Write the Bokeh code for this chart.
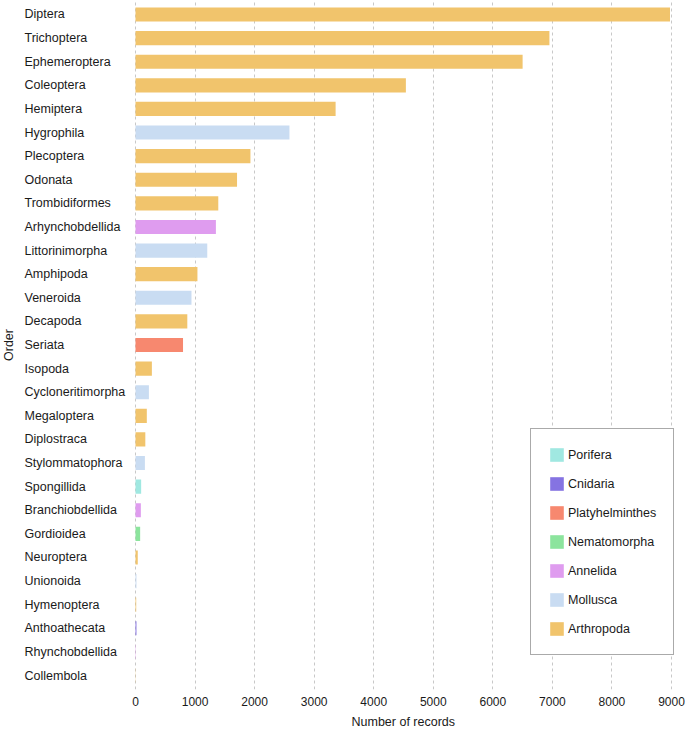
from math import pi
from bokeh.plotting import figure
from bokeh.models import (ColumnDataSource, FactorRange, Range1d, FixedTicker,
                          Legend, LegendItem, Title)
from bokeh.core.properties import value
from bokeh.embed import file_html
from bokeh.resources import INLINE

orders = ["Diptera", "Trichoptera", "Ephemeroptera", "Coleoptera", "Hemiptera",
          "Hygrophila", "Plecoptera", "Odonata", "Trombidiformes", "Arhynchobdellida",
          "Littorinimorpha", "Amphipoda", "Veneroida", "Decapoda", "Seriata",
          "Isopoda", "Cycloneritimorpha", "Megaloptera", "Diplostraca", "Stylommatophora",
          "Spongillida", "Branchiobdellida", "Gordioidea", "Neuroptera", "Unionoida",
          "Hymenoptera", "Anthoathecata", "Rhynchobdellida", "Collembola"]
records = [8975, 6950, 6500, 4540, 3360,
           2585, 1930, 1705, 1390, 1350,
           1205, 1040, 940, 870, 798,
           275, 225, 190, 165, 158,
           95, 90, 78, 38, 16,
           12, 16, 5, 3]
phyla = ["Arthropoda", "Arthropoda", "Arthropoda", "Arthropoda", "Arthropoda",
         "Mollusca", "Arthropoda", "Arthropoda", "Arthropoda", "Annelida",
         "Mollusca", "Arthropoda", "Mollusca", "Arthropoda", "Platyhelminthes",
         "Arthropoda", "Mollusca", "Arthropoda", "Arthropoda", "Mollusca",
         "Porifera", "Annelida", "Nematomorpha", "Arthropoda", "Mollusca",
         "Arthropoda", "Cnidaria", "Annelida", "Arthropoda"]

phylum_names = ["Porifera", "Cnidaria", "Platyhelminthes", "Nematomorpha",
                "Annelida", "Mollusca", "Arthropoda"]
phylum_colors = ["#A0E8E1", "#8573E2", "#F7886F", "#8CE49D",
                 "#DF9CEF", "#C9DCF2", "#F1C46C"]

x_ticks = [0, 1000, 2000, 3000, 4000, 5000, 6000, 7000, 8000, 9000]
y_title = "Order"
x_title = "Number of records"

FONT = "Liberation Sans"
TXT = "#1a1a1a"

# the frame spans the whole width; value 0 sits 135 px from the left edge
px_per_unit = 536 / 9000
x_start = -135 / px_per_unit
x_end = 550 / px_per_unit

p = figure(width=685, height=734,
           y_range=FactorRange(factors=orders[::-1], range_padding=0.093,
                               range_padding_units="absolute"),
           x_range=Range1d(x_start, x_end),
           output_backend="svg", toolbar_location=None,
           min_border_left=0, min_border_right=0,
           min_border_top=0, min_border_bottom=45)

p.background_fill_color = "white"
p.border_fill_color = "white"
p.outline_line_color = None

items = []
for name, color in zip(phylum_names, phylum_colors):
    sel = [i for i, ph in enumerate(phyla) if ph == name]
    src = ColumnDataSource(dict(order=[orders[i] for i in sel],
                                records=[records[i] for i in sel]))
    r = p.hbar(y="order", left=0, right="records", height=0.6, source=src,
               fill_color=color, line_color=None)
    items.append(LegendItem(label=name, renderers=[r]))

legend = Legend(items=items, location=(530, 34))
legend.border_line_color = "#555555"
legend.border_line_width = 1
legend.background_fill_color = "white"
legend.background_fill_alpha = 1
legend.padding = 17
legend.spacing = 12
legend.margin = 0
legend.glyph_width = 17
legend.glyph_height = 17
legend.label_height = 17
legend.label_standoff = 3
legend.label_text_font = FONT
legend.label_text_font_size = "12.5px"
legend.label_text_color = TXT
p.add_layout(legend)

# x axis
ticker = FixedTicker(ticks=x_ticks)
p.xaxis.ticker = ticker
p.xaxis.major_tick_out = 0
p.xaxis.major_tick_in = 0
p.xaxis.minor_tick_out = 0
p.xaxis.minor_tick_in = 0
p.xaxis.axis_line_color = None
p.xaxis.major_label_standoff = 7
p.xaxis.major_label_text_font = FONT
p.xaxis.major_label_text_font_size = "12px"
p.xaxis.major_label_text_color = TXT

xt = Title(text=x_title, align="left", offset=351, standoff=8,
           text_font=FONT, text_font_size="12.5px", text_font_style="normal",
           text_color=TXT)
p.add_layout(xt, "below")

p.yaxis.visible = False

p.xgrid.ticker = ticker
p.xgrid.grid_line_color = "#c8c8c8"
p.xgrid.grid_line_dash = "3 3"
p.xgrid.grid_line_width = 1
p.ygrid.visible = False

# category labels, left aligned
lab_src = ColumnDataSource(dict(x=[0] * len(orders), y=orders, t=orders))
p.text(x="x", y="y", text="t", source=lab_src, x_offset=-111,
       text_align="left", text_baseline="middle",
       text_font=value(FONT), text_font_size="12.5px", text_color=TXT)

ylab_src = ColumnDataSource(dict(x=[0], y=["Seriata"], t=[y_title]))
p.text(x="x", y="y", text="t", source=ylab_src, x_offset=-127,
       angle=pi / 2, text_align="center", text_baseline="middle",
       text_font=value(FONT), text_font_size="12.5px", text_color=TXT)

open("out.html", "w").write(file_html(p, INLINE))
